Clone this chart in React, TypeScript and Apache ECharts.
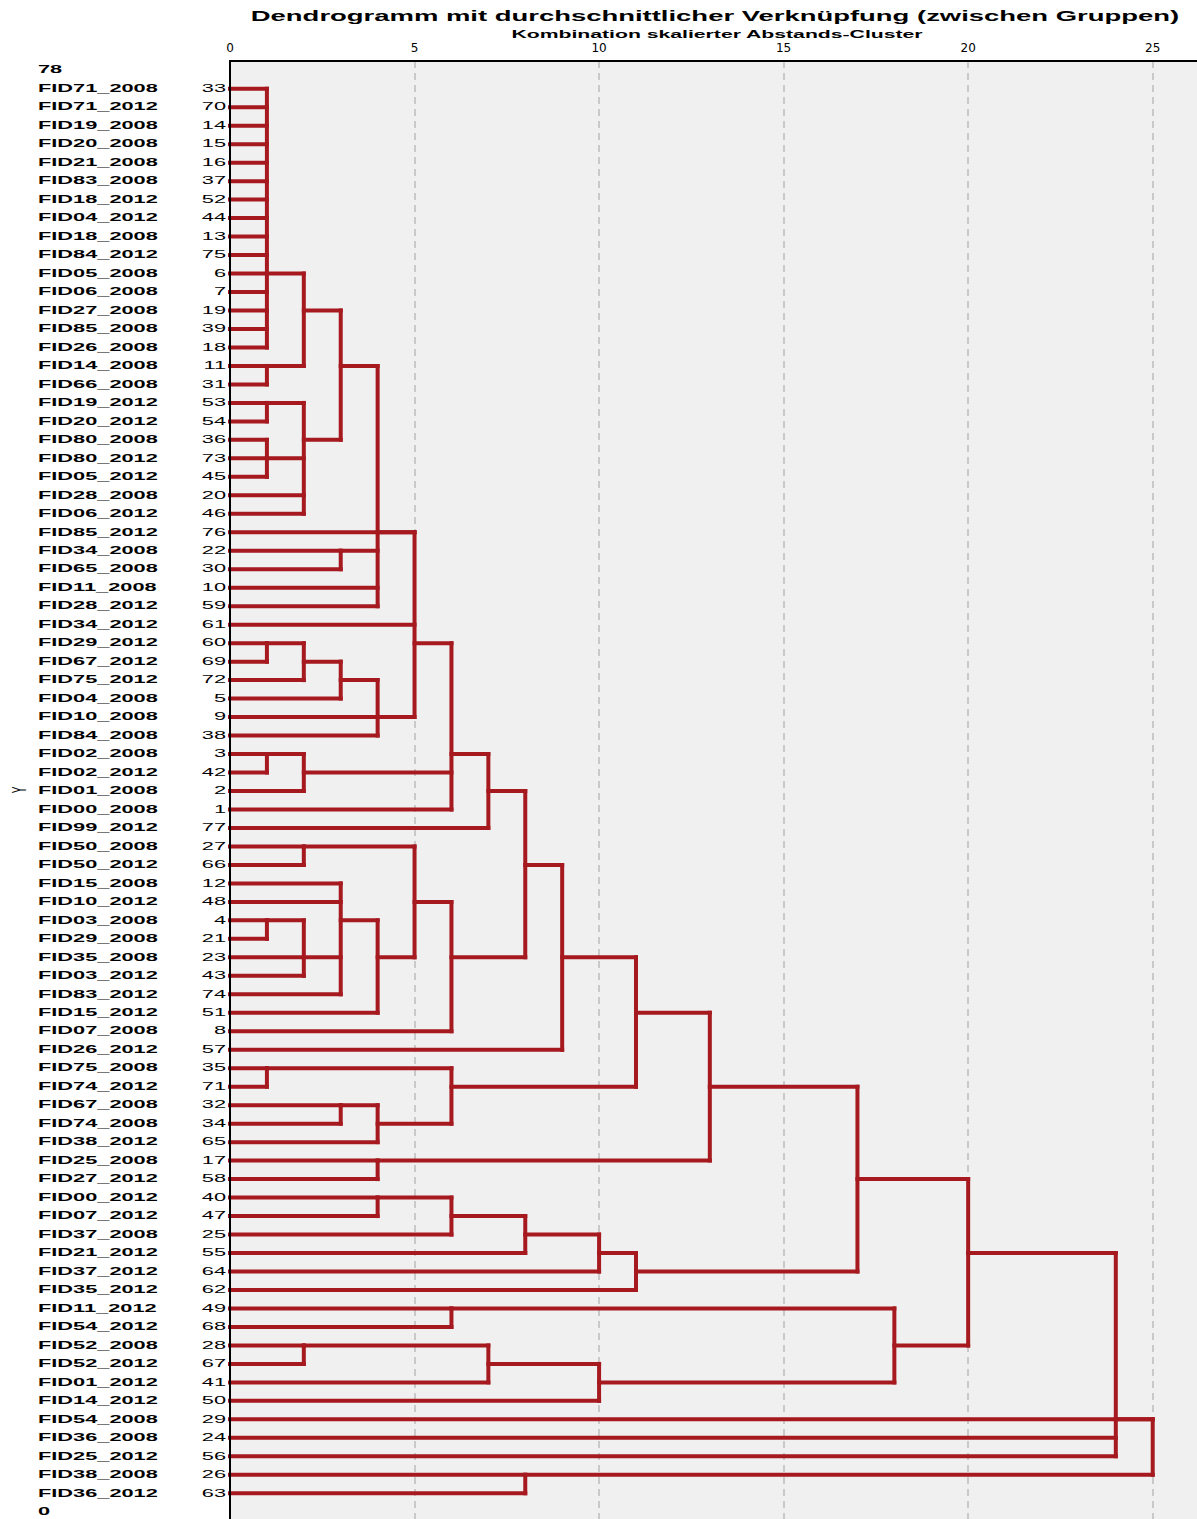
import React, { useEffect, useRef } from "react";
import * as echarts from "echarts";

const chartTitle = "Dendrogramm mit durchschnittlicher Verknüpfung (zwischen Gruppen)";
const xAxisTitle = "Kombination skalierter Abstands-Cluster";
const yAxisTitle = "Y";

const rowNames = [
  "FID71_2008", "FID71_2012", "FID19_2008", "FID20_2008", "FID21_2008", "FID83_2008", "FID18_2012",
  "FID04_2012", "FID18_2008", "FID84_2012", "FID05_2008", "FID06_2008", "FID27_2008", "FID85_2008",
  "FID26_2008", "FID14_2008", "FID66_2008", "FID19_2012", "FID20_2012", "FID80_2008", "FID80_2012",
  "FID05_2012", "FID28_2008", "FID06_2012", "FID85_2012", "FID34_2008", "FID65_2008", "FID11_2008",
  "FID28_2012", "FID34_2012", "FID29_2012", "FID67_2012", "FID75_2012", "FID04_2008", "FID10_2008",
  "FID84_2008", "FID02_2008", "FID02_2012", "FID01_2008", "FID00_2008", "FID99_2012", "FID50_2008",
  "FID50_2012", "FID15_2008", "FID10_2012", "FID03_2008", "FID29_2008", "FID35_2008", "FID03_2012",
  "FID83_2012", "FID15_2012", "FID07_2008", "FID26_2012", "FID75_2008", "FID74_2012", "FID67_2008",
  "FID74_2008", "FID38_2012", "FID25_2008", "FID27_2012", "FID00_2012", "FID07_2012", "FID37_2008",
  "FID21_2012", "FID37_2012", "FID35_2012", "FID11_2012", "FID54_2012", "FID52_2008", "FID52_2012",
  "FID01_2012", "FID14_2012", "FID54_2008", "FID36_2008", "FID25_2012", "FID38_2008", "FID36_2012",
];

const caseNumbers = [
  33, 70, 14, 15, 16, 37, 52, 44, 13, 75, 6, 7, 19, 39, 18, 11, 31, 53, 54, 36, 73, 45, 20, 46, 76,
  22, 30, 10, 59, 61, 60, 69, 72, 5, 9, 38, 3, 42, 2, 1, 77, 27, 66, 12, 48, 4, 21, 23, 43, 74, 51,
  8, 57, 35, 71, 32, 34, 65, 17, 58, 40, 47, 25, 55, 64, 62, 49, 68, 28, 67, 41, 50, 29, 24, 56, 26, 63,
];

const yEndLabels = ["78", "0"];
const yEndValues = [78, 0];

const xMin = 0;
const xMax = 26.2;
const xStep = 5;

// rescaled distance of each merge
const mergeDistance = [
  1, 1, 2, 1, 1, 2, 3, 3, 4, 1, 2, 3, 4, 5, 1, 2, 6, 7, 2, 1, 2, 3, 4, 5, 6, 8, 9, 1, 3, 4, 6, 11,
  4, 13, 4, 6, 8, 10, 11, 17, 6, 2, 7, 10, 18, 20, 24, 8, 25,
];
// row (1 = top) on which the merged cluster leaves its vertical line
const mergeOutputRow = [
  11, 16, 13, 18, 21, 20, 16, 26, 25, 31, 32, 33, 35, 31, 37, 38, 37, 39, 42, 46, 48, 46, 48, 45,
  48, 43, 48, 54, 56, 57, 55, 51, 59, 55, 61, 62, 63, 64, 65, 60, 67, 69, 70, 71, 69, 64, 73, 76, 73,
];
// children: numbers are leaf rows, "m#" are earlier merges
const mergeChildren: (number | string)[][] = [
  [1, 2, 3, 4, 5, 6, 7, 8, 9, 10, 11, 12, 13, 14, 15], [16, 17], ["m1", "m2"], [18, 19], [20, 21, 22],
  ["m4", "m5", 23, 24], ["m3", "m6"], [26, 27], ["m7", "m8", 28, 29], [31, 32], ["m10", 33], ["m11", 34],
  ["m12", 35, 36], [25, "m9", 30, "m13"], [37, 38], ["m15", 39], ["m14", "m16", 40], ["m17", 41],
  [42, 43], [46, 47], ["m20", 48, 49], [44, 45, "m21", 50], ["m22", 51], ["m19", "m23"], ["m24", 52],
  ["m18", "m25"], ["m26", 53], [54, 55], [56, 57], ["m29", 58], ["m28", "m30"], ["m27", "m31"],
  [59, 60], ["m32", "m33"], [61, 62], ["m35", 63], ["m36", 64], ["m37", 65], ["m38", 66],
  ["m34", "m39"], [67, 68], [69, 70], ["m42", 71], ["m43", 72], ["m41", "m44"], ["m40", "m45"],
  ["m46", 74, 75], [76, 77], [73, "m47", "m48"],
];

const CATEGORY_COUNT = rowNames.length + 2;
const yCategories = Array.from({ length: CATEGORY_COUNT }, (_, i) => String(i));
const rowToValue = (row: number) => CATEGORY_COUNT - 1 - row;

const mergeKids = mergeChildren.map((kids) =>
  kids.map((k) => {
    if (typeof k === "number") return { v: rowToValue(k), from: 0 };
    const j = Number(k.slice(1)) - 1;
    return { v: rowToValue(mergeOutputRow[j]), from: mergeDistance[j] };
  })
);

const RED = "#a5191f";
const FONT = '"Liberation Sans", Arial, Helvetica, sans-serif';
const LABEL_SX = 2.18;

const lineEl = (a: number[], b: number[]) => ({
  type: "line",
  shape: { x1: a[0], y1: a[1], x2: b[0], y2: b[1] },
  style: { stroke: RED, lineWidth: 4, lineCap: "square", fill: null },
});

const renderMerge = (params: any, api: any) => {
  const i = params.dataIndex;
  const d = mergeDistance[i];
  const kids = mergeKids[i];
  const children: any[] = [];
  let vMin = Infinity;
  let vMax = -Infinity;
  for (const k of kids) {
    children.push(lineEl(api.coord([k.from, k.v]), api.coord([d, k.v])));
    vMin = Math.min(vMin, k.v);
    vMax = Math.max(vMax, k.v);
  }
  children.push(lineEl(api.coord([d, vMax]), api.coord([d, vMin])));
  return { type: "group", children };
};

const textEl = (x: number, y: number, text: string, bold: boolean, align: string) => ({
  type: "text",
  x,
  y,
  scaleX: LABEL_SX,
  style: {
    text,
    font: `${bold ? "bold " : ""}10px ${FONT}`,
    fill: "#000",
    textAlign: align,
    textVerticalAlign: "middle",
    align,
    verticalAlign: "middle",
  },
});

const renderLabel = (params: any, api: any) => {
  const i = params.dataIndex;
  if (i < rowNames.length) {
    const p = api.coord([0, rowToValue(i + 1)]);
    return {
      type: "group",
      children: [
        textEl(p[0] - 192, p[1], rowNames[i], true, "left"),
        textEl(p[0] - 4, p[1], String(caseNumbers[i]), false, "right"),
      ],
    };
  }
  const j = i - rowNames.length;
  const p = api.coord([0, yEndValues[j]]);
  return textEl(p[0] - 192, p[1], yEndLabels[j], true, "left");
};

export default function App() {
  const ref = useRef<HTMLDivElement>(null);

  useEffect(() => {
    if (!ref.current) return;
    const chart = echarts.init(ref.current, undefined, { renderer: "svg" });
    const labelData = [
      ...rowNames.map((_, i) => [0, rowToValue(i + 1)]),
      ...yEndValues.map((v) => [0, v]),
    ];
    chart.setOption({
      animation: false,
      backgroundColor: "#ffffff",
      grid: {
        left: 230,
        right: 0,
        top: 61,
        bottom: 0,
        show: true,
        backgroundColor: "#f0f0f0",
        borderWidth: 0,
      },
      xAxis: {
        type: "value",
        position: "top",
        min: xMin,
        max: xMax,
        interval: xStep,
        axisLine: { show: true, onZero: false, lineStyle: { color: "#000", width: 2 } },
        axisTick: { show: false },
        axisLabel: {
          color: "#000",
          fontSize: 12,
          fontFamily: '"DejaVu Sans", sans-serif',
          margin: 7,
          showMaxLabel: false,
          formatter: (v: number) => (v % xStep === 0 ? String(v) : ""),
        },
        splitLine: {
          show: true,
          showMinLine: false,
          showMaxLine: false,
          lineStyle: { color: "#c9c9c9", width: 2, type: [7, 5] },
        },
      },
      yAxis: {
        type: "category",
        data: yCategories,
        boundaryGap: true,
        z: 5,
        axisLine: { show: true, onZero: false, lineStyle: { color: "#000", width: 2 } },
        axisTick: { show: false },
        axisLabel: { show: false },
        splitLine: { show: false },
      },
      graphic: [
        {
          type: "text",
          x: 715,
          y: 16,
          scaleX: 1.83,
          style: {
            text: chartTitle,
            font: `bold 15px ${FONT}`,
            fill: "#000",
            textAlign: "center",
            textVerticalAlign: "middle",
          },
        },
        {
          type: "text",
          x: 717,
          y: 35,
          scaleX: 2.12,
          style: {
            text: xAxisTitle,
            font: `bold 10px ${FONT}`,
            fill: "#000",
            textAlign: "center",
            textVerticalAlign: "middle",
          },
        },
        {
          type: "text",
          x: 19,
          y: 790,
          rotation: Math.PI / 2,
          scaleY: 2.0,
          style: {
            text: yAxisTitle,
            font: `10px ${FONT}`,
            fill: "#000",
            textAlign: "center",
            textVerticalAlign: "middle",
          },
        },
      ],
      series: [
        {
          type: "custom",
          name: "Dendrogramm",
          renderItem: renderMerge,
          data: mergeDistance.map((d, i) => [d, rowToValue(mergeOutputRow[i])]),
          encode: { x: 0, y: 1 },
          clip: false,
          silent: true,
          z: 2,
        },
        {
          type: "custom",
          name: "Labels",
          renderItem: renderLabel,
          data: labelData,
          encode: { x: 0, y: 1 },
          clip: false,
          silent: true,
          z: 3,
        },
      ],
    });
    return () => chart.dispose();
  }, []);

  return (
    <div
      ref={ref}
      style={{ position: "fixed", left: 0, top: 0, width: 1197, height: 1521, background: "#fff" }}
    />
  );
}
